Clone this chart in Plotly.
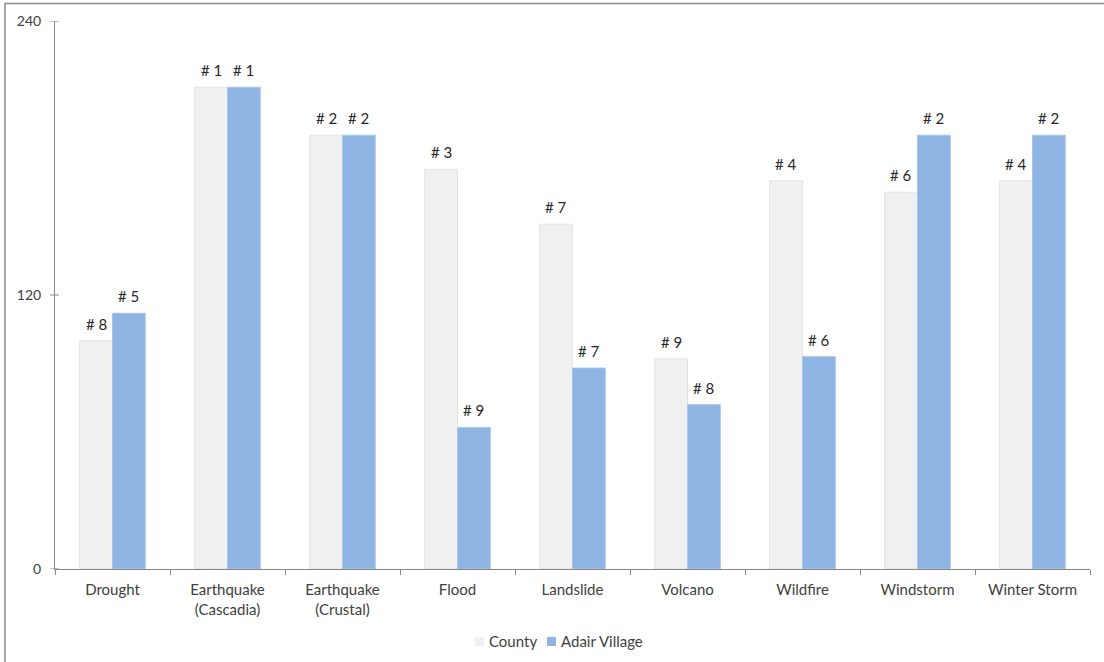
import plotly.graph_objects as go

# Hazard categories and scores
categories = ["Drought", "Earthquake<br>(Cascadia)", "Earthquake<br>(Crustal)", "Flood",
              "Landslide", "Volcano", "Wildfire", "Windstorm", "Winter Storm"]
county_scores = [100, 211, 190, 175, 151, 92, 170, 165, 170]
village_scores = [112, 211, 190, 62, 88, 72, 93, 190, 190]
county_ranks = ["# 8", "# 1", "# 2", "# 3", "# 7", "# 9", "# 4", "# 6", "# 4"]
village_ranks = ["# 5", "# 1", "# 2", "# 9", "# 7", "# 8", "# 6", "# 2", "# 2"]
y_ticks = [0, 120, 240]

FONT = "Lato"
FS = 15
TXT = "#404040"
AXIS = "#868686"
BARGAP = 0.43
COLORS = {"County": "#F0F0F0", "Adair Village": "#8EB4E3"}

fig = go.Figure()
fig.add_trace(go.Bar(
    name="County", x=categories, y=county_scores, showlegend=False,
    marker=dict(color=COLORS["County"], line=dict(color="#E2E2E2", width=1)),
))
fig.add_trace(go.Bar(
    name="Adair Village", x=categories, y=village_scores, showlegend=False,
    marker=dict(color=COLORS["Adair Village"], line=dict(color="#A9C5EA", width=1)),
))

# Rank labels above each bar
half = (1 - BARGAP) / 4
for i in range(len(categories)):
    for off, val, txt in ((-half, county_scores[i], county_ranks[i]),
                          (half, village_scores[i], village_ranks[i])):
        fig.add_annotation(x=i + off, y=val, text=txt, showarrow=False,
                           xref="x", yref="y", yanchor="bottom", yshift=6,
                           font=dict(family=FONT, size=FS, color="#262626"))

# Compact legend below the plot: square swatch followed by series name
PW, PH = 1035, 548
def px_x(px):
    return (px - 55) / PW
def px_y(py):
    return (569 - py) / PH

legend_items = [("County", 475), ("Adair Village", 547)]
for name, left in legend_items:
    fig.add_shape(type="rect", xref="paper", yref="paper",
                  x0=px_x(left), x1=px_x(left + 9), y0=px_y(646), y1=px_y(637),
                  fillcolor=COLORS[name], line=dict(width=0))
    fig.add_annotation(x=px_x(left + 12), y=px_y(641.5), xref="paper", yref="paper",
                       text=name, showarrow=False, xanchor="left", yanchor="middle",
                       font=dict(family=FONT, size=FS, color=TXT))

# Y-axis tick marks cross the axis line
for v in y_ticks:
    fig.add_shape(type="line", xref="paper", yref="y",
                  x0=px_x(50), x1=px_x(59), y0=v, y1=v,
                  line=dict(color=AXIS, width=1))

# Outer chart frame
fig.add_shape(type="rect", xref="paper", yref="paper",
              x0=px_x(5), x1=1.2, y0=-0.3, y1=px_y(3.5),
              line=dict(color="#8C8C8C", width=1.5), fillcolor="rgba(0,0,0,0)")

fig.update_layout(
    width=1104, height=662,
    margin=dict(l=55, r=14, t=21, b=93),
    paper_bgcolor="white", plot_bgcolor="white",
    barmode="group", bargap=BARGAP, bargroupgap=0,
    font=dict(family=FONT, size=FS, color=TXT),
    showlegend=False,
    xaxis=dict(type="category", showline=True, linecolor=AXIS, linewidth=1,
               ticks="outside", tickson="boundaries", ticklen=5, tickcolor=AXIS,
               showgrid=False, ticklabelstandoff=7, automargin=False,
               tickfont=dict(family=FONT, size=FS, color=TXT)),
    yaxis=dict(range=[0, 240], tickvals=y_ticks, showline=True, linecolor=AXIS,
               linewidth=1, ticks="", showgrid=False, zeroline=False,
               ticklabelstandoff=10, automargin=False,
               tickfont=dict(family=FONT, size=14, color=TXT)),
)

fig.write_html("out.html")
